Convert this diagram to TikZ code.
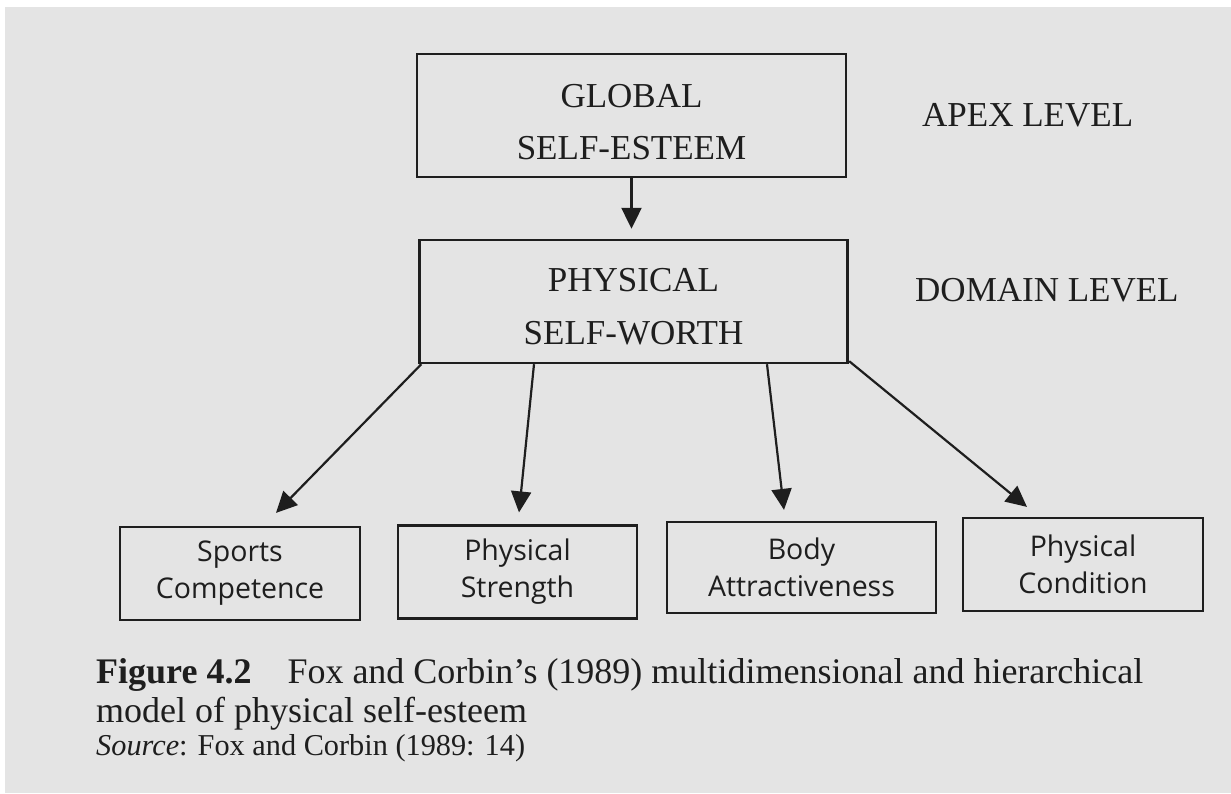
\documentclass[tikz,border=0pt]{standalone}
\usepackage{fontspec}
\setmainfont{Liberation Serif}
\newfontfamily\boxsans{Open Sans}
\usetikzlibrary{arrows.meta,calc}
\definecolor{paper}{HTML}{E4E4E4}
\definecolor{ink}{HTML}{1E1E1E}

\begin{document}
\begin{tikzpicture}[x=1pt,y=-1pt,
  bigbox/.style={draw=ink, line width=2.4pt, minimum width=#1, minimum height=123pt,
    inner sep=0pt},
  bigtext/.style={inner sep=0pt, align=center, text=ink,
    font=\fontsize{35}{52}\selectfont},
  smallbox/.style={draw=ink, line width=2.2pt, minimum width=#1, minimum height=93pt,
    inner sep=0pt, align=center, text=ink,
    font=\boxsans\fontsize{28.5}{37}\selectfont},
  levellabel/.style={anchor=base west, inner sep=0pt, text=ink,
    font=\fontsize{35}{42}\selectfont},
  arr/.style={draw=ink, line width=2.2pt, -{Triangle[length=21pt,width=20pt]}},
  captxt/.style={anchor=base west, inner sep=0pt, text=ink}]

% page and paper
\useasboundingbox (0,0) rectangle (1231,793);
\fill[white] (0,0) rectangle (1231,793);
\fill[paper] (5,7) rectangle (1231,793);

% upper boxes, their two-line titles set a little below centre
\node[bigbox=429pt] (glob) at (631.5,115.5) {};
\node[bigtext] (globtext) at ($(glob.center)+(0,6.5)$) {GLOBAL\\SELF-ESTEEM};
\node[bigbox=428pt] (phys) at (633.5,301.5) {};
\node[bigtext, font=\fontsize{35}{53}\selectfont] (phystext) at ($(phys.center)+(0,5.5)$)
  {PHYSICAL\\SELF-WORTH};

% lower boxes
\node[smallbox=240pt] (sport) at (240,573.5) {Sports\\Competence};
\node[smallbox=239pt] (stren) at (517.5,572) {Physical\\Strength};
\node[smallbox=269pt, minimum height=91pt] (body) at (801.5,567.5) {Body\\Attractiveness};
\node[smallbox=240pt] (cond) at (1083,564.5) {Physical\\Condition};

% level labels
\node[levellabel] (apex) at (922,126) {APEX LEVEL};
\node[levellabel] (domain) at (915,301) {DOMAIN LEVEL};

% arrows
\draw[arr] (glob.south) -- ($(phys.north)+(-2,-10)$);
\draw[arr] ($(phys.south west)+(3,0)$) -- ($(sport.north)+(36,-13)$);
\draw[arr] ($(phys.south)+(-99.5,0)$) -- ($(stren.north)+(1.5,-12)$);
\draw[arr] ($(phys.south)+(133.5,0)$) -- ($(body.north)+(-17.5,-11)$);
\draw[arr] ($(phys.south east)+(0.5,-3)$) -- ($(cond.north)+(-56,-10)$);

% caption
\node[captxt, font=\fontsize{36}{42}\selectfont] (cap1) at (96,683)
  {\textbf{Figure 4.2}\quad Fox and Corbin’s (1989) multidimensional and hierarchical};
\node[captxt, font=\fontsize{36}{42}\selectfont] (cap2) at (96,722)
  {model of physical self-esteem};
\node[captxt, font=\fontsize{30.3}{36}\selectfont] (cap3) at (96,755)
  {\textit{Source}: Fox and Corbin (1989: 14)};
\end{tikzpicture}
\end{document}
